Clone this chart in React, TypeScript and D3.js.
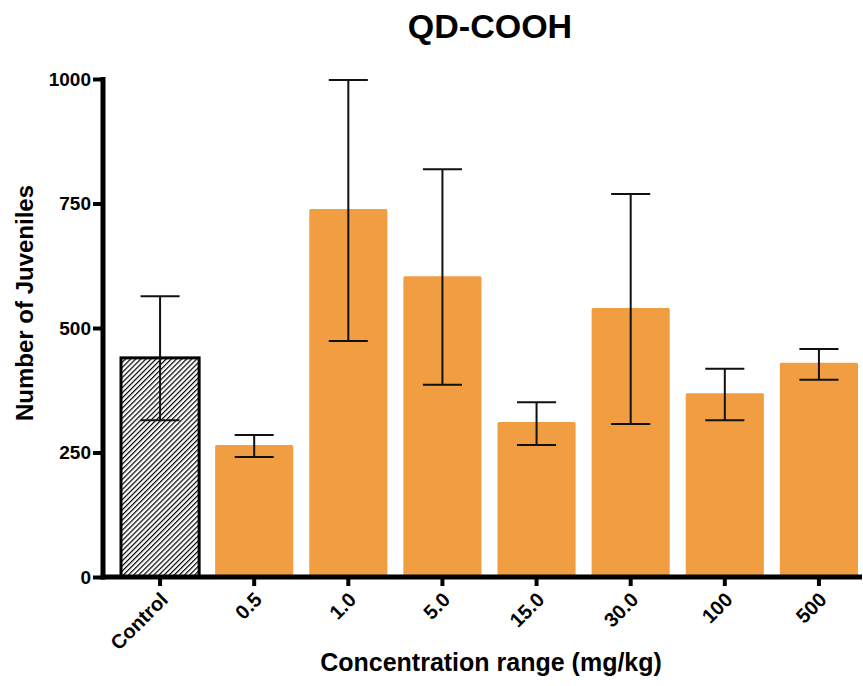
import React, { useRef, useEffect } from 'react'
import * as d3 from 'd3'

// concentration groups (mg/kg)
const groups = ['Control', '0.5', '1.0', '5.0', '15.0', '30.0', '100', '500']
// mean number of juveniles
const means = [440, 265, 739, 604, 311, 540, 369, 430]
// error bar ends
const errHigh = [564, 285, 998, 819, 351, 769, 418, 458]
const errLow = [315, 241, 474, 386, 265, 307, 315, 396]
const yTicks = [0, 250, 500, 750, 1000]

const FONT = 'Liberation Sans, Arial, Helvetica, sans-serif'

export default function App() {
  const svgRef = useRef<SVGSVGElement>(null)

  useEffect(() => {
    const w = 863
    const h = 686
    const svg = d3.select(svgRef.current)
    svg.selectAll('*').remove()
    svg.attr('width', w).attr('height', h).style('background', '#fff')

    const x = d3.scaleBand<string>()
      .domain(groups)
      .range([113, 866])
      .paddingInner(0.17)
      .paddingOuter(0.085)

    const y = d3.scaleLinear()
      .domain([0, 1000])
      .range([577, 79])

    const data = groups.map((g, i) => ({ g, v: means[i], hi: errHigh[i], lo: errLow[i] }))

    // hatch for the control bar
    const defs = svg.append('defs')
    defs.append('pattern')
      .attr('id', 'hatch')
      .attr('patternUnits', 'userSpaceOnUse')
      .attr('width', 3.6)
      .attr('height', 3.6)
      .attr('patternTransform', 'rotate(45)')
      .call(p => {
        p.append('rect').attr('width', 3.6).attr('height', 3.6).attr('fill', '#fff')
        p.append('line')
          .attr('x1', 0.6).attr('x2', 0.6)
          .attr('y1', 0).attr('y2', 3.6)
          .attr('stroke', '#000')
          .attr('stroke-width', 1.2)
      })

    // bars
    svg.append('g')
      .selectAll('rect')
      .data(data)
      .join('rect')
        .attr('x', d => x(d.g)!)
        .attr('y', d => y(d.v))
        .attr('width', x.bandwidth())
        .attr('height', d => y(0) - y(d.v))
        .attr('rx', d => d.g === 'Control' ? 0 : 1.5)
        .attr('fill', d => d.g === 'Control' ? 'url(#hatch)' : '#F09E41')
        .attr('stroke', d => d.g === 'Control' ? '#000' : 'none')
        .attr('stroke-width', 3)

    // error bars
    const cap = x.bandwidth() / 2
    const eb = svg.append('g')
      .attr('stroke', '#111')
      .attr('stroke-width', 2)
      .selectAll('g')
      .data(data)
      .join('g')
        .attr('transform', d => `translate(${x(d.g)! + x.bandwidth() / 2},0)`)
    eb.append('line')
      .attr('y1', d => y(d.lo)).attr('y2', d => y(d.hi))
    eb.append('line')
      .attr('x1', -cap / 2).attr('x2', cap / 2)
      .attr('y1', d => y(d.hi)).attr('y2', d => y(d.hi))
    eb.append('line')
      .attr('x1', -cap / 2).attr('x2', cap / 2)
      .attr('y1', d => y(d.lo)).attr('y2', d => y(d.lo))

    // y axis
    const yAxis = d3.axisLeft(y)
      .tickValues(yTicks)
      .tickFormat(d3.format('d'))
      .tickSize(10)
      .tickSizeOuter(0)
      .tickPadding(2)
    const gy = svg.append('g')
      .attr('transform', 'translate(103,0)')
      .call(yAxis)
    gy.select('.domain').attr('stroke-width', 5).attr('d', `M0,${y(0) + 2.5}V${y(1000) - 2}`)
    gy.selectAll('.tick line').attr('stroke-width', 4)
    gy.selectAll('.tick text')
      .attr('font-family', FONT)
      .attr('font-weight', 'bold')
      .attr('font-size', 19)
      .attr('fill', '#000')

    // x axis
    const xAxis = d3.axisBottom(x).tickSize(9).tickSizeOuter(0).tickFormat(() => '')
    const gx = svg.append('g')
      .attr('transform', `translate(0,${y(0)})`)
      .call(xAxis)
    gx.select('.domain').attr('stroke-width', 5).attr('d', 'M100.5,0H862')
    gx.selectAll('.tick line').attr('stroke-width', 4)

    svg.append('g')
      .selectAll('text')
      .data(groups)
      .join('text')
        .attr('transform', d => `translate(${x(d)! + x.bandwidth() / 2 + 9},${y(0) + 24}) rotate(-45)`)
        .attr('text-anchor', 'end')
        .attr('font-family', FONT)
        .attr('font-weight', 'bold')
        .attr('font-size', 20)
        .text(d => d)

    // titles
    svg.append('text')
      .attr('x', 490)
      .attr('y', 38)
      .attr('text-anchor', 'middle')
      .attr('font-family', FONT)
      .attr('font-weight', 'bold')
      .attr('font-size', 34)
      .text('QD-COOH')

    svg.append('text')
      .attr('transform', 'translate(33,303) rotate(-90)')
      .attr('text-anchor', 'middle')
      .attr('font-family', FONT)
      .attr('font-weight', 'bold')
      .attr('font-size', 24)
      .text('Number of Juveniles')

    svg.append('text')
      .attr('x', 491)
      .attr('y', 671)
      .attr('text-anchor', 'middle')
      .attr('font-family', FONT)
      .attr('font-weight', 'bold')
      .attr('font-size', 25)
      .text('Concentration range (mg/kg)')
  }, [])

  return (
    <div style={{ position: 'absolute', left: 0, top: 0 }}>
      <svg ref={svgRef}></svg>
    </div>
  )
}
